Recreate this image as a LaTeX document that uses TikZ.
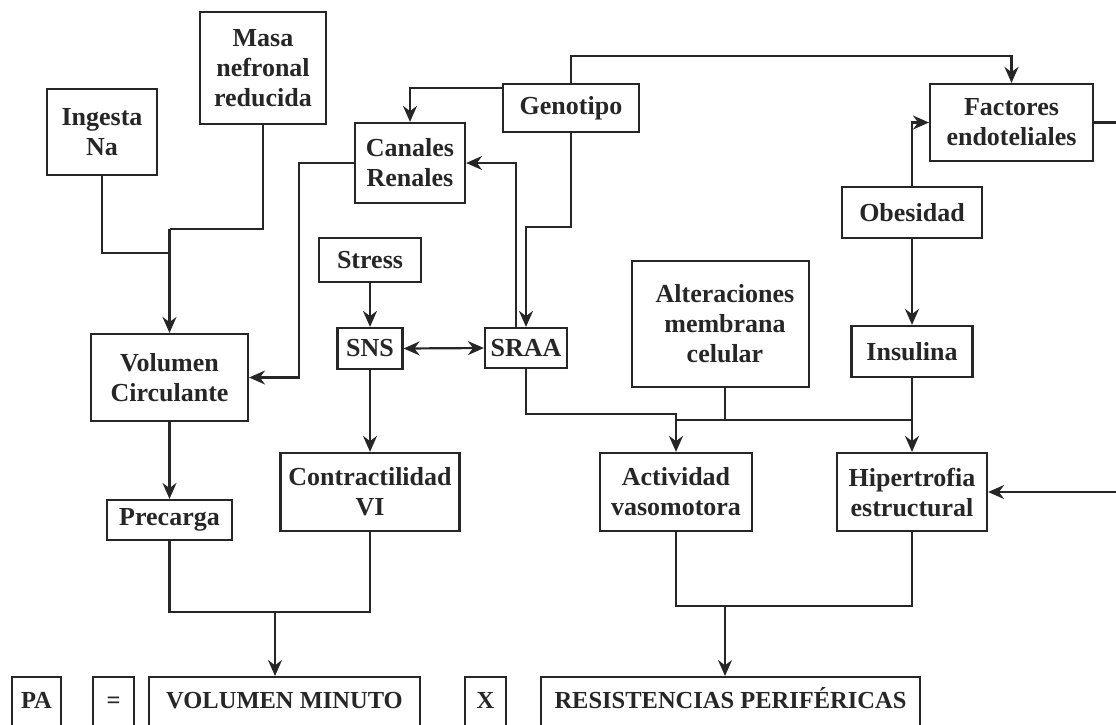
\documentclass[tikz,border=0pt]{standalone}
\usepackage{fontspec}
\setmainfont{Liberation Serif}
\usetikzlibrary{arrows.meta}

\begin{document}
\begin{tikzpicture}[
                x=1pt, y=-1pt,
                line width=2.2pt, color=black!85,
                box/.style={draw, rectangle, align=center, inner sep=0pt, font=\fontsize{26}{30}\selectfont\bfseries},  % all boxes
                eqbox/.style={box, anchor=north, text height=31pt, text depth=33pt, font=\fontsize{24.5}{30}\selectfont\bfseries},  % bottom row, cut by the page edge
                arr/.style={-{Stealth[length=16pt,width=14pt]}},
                arrs/.style={{Stealth[length=16pt,width=14pt]}-{Stealth[length=16pt,width=14pt]}}
            ]
            % Page frame
            \useasboundingbox (0,0) rectangle (1116,724);
            \clip (0,0) rectangle (1116,724);

            % Upper causes
            \node[box, minimum width=126pt, minimum height=112pt] (masa) at (263,68) {Masa\\nefronal\\reducida};
            \node[box, minimum width=110pt, minimum height=86pt] (ingesta) at (102,132) {Ingesta\\Na};
            \node[box, minimum width=136pt, minimum height=48pt] (genotipo) at (571,108) {Genotipo};
            \node[box, minimum width=163pt, minimum height=77pt] (factores) at (1011.5,122.5) {Factores\\endoteliales};
            \node[box, minimum width=110pt, minimum height=80pt] (canales) at (410,163) {Canales\\Renales};
            \node[box, minimum width=140pt, minimum height=51pt] (obesidad) at (912,212.5) {Obesidad};
            \node[box, minimum width=102pt, minimum height=44pt] (stress) at (370,260) {Stress};

            % Middle row
            \node[box, minimum width=65pt, minimum height=41pt] (sns) at (370,348.5) {SNS};
            \node[box, minimum width=82pt, minimum height=40pt] (sraa) at (526,348) {SRAA};
            \node[box, minimum width=157pt, minimum height=87pt] (volumen) at (169.5,377.5) {Volumen\\Circulante};
            \node[box, minimum width=177pt, minimum height=126pt] (alter) at (720.5,324) {\hspace*{9pt}Alteraciones\\\hspace*{9pt}membrana\\\hspace*{9pt}celular};
            \node[box, minimum width=121pt, minimum height=51pt] (insulina) at (912,351.5) {Insulina};

            % Lower row
            \node[box, minimum width=125pt, minimum height=40pt] (precarga) at (169.5,520) {Precarga};
            \node[box, minimum width=179pt, minimum height=78pt] (contract) at (370,492) {Contractilidad\\VI};
            \node[box, minimum width=152pt, minimum height=78pt] (actividad) at (676,492) {Actividad\\vasomotora};
            \node[box, minimum width=150pt, minimum height=78pt] (hipertrofia) at (912,492) {Hipertrofia\\estructural};

            % Equation PA = VM x RP
            \node[eqbox, minimum width=49pt] (pa) at (36.5,676) {PA};
            \node[eqbox, minimum width=41pt] (igual) at (113.5,676) {=};
            \node[eqbox, minimum width=271pt] (vm) at (284.5,676) {VOLUMEN MINUTO};
            \node[eqbox, minimum width=41pt] (por) at (485.5,676) {X};
            \node[eqbox, minimum width=379pt] (rp) at (730.5,676) {RESISTENCIAS PERIFÉRICAS};

            % Junction points
            \coordinate (jvol) at (169.5,229);
            \coordinate (jna) at (169.5,253);
            \coordinate (jvm) at (275,612);
            \coordinate (jl) at (676,420);
            \coordinate (jr) at (912,420);
            \coordinate (jrp) at (725,606);

            % Connectors into Volumen Circulante
            \draw (masa.south) |- (jvol);
            \draw (ingesta.south) |- (jna);
            \draw[arr] (jvol) -- (volumen.north);
            \draw[arr] (canales.west) -- ++(-55,0) |- (volumen.east);

            % Genotipo outputs
            \draw[arr] ([yshift=-5pt]genotipo.north west) -| (canales.north);
            \draw[arr] (genotipo.north) -- ++(0,-27) -| (factores.north);
            \draw[arr] (genotipo.south) -- ++(0,94) -| (sraa.north);
            \draw[arr] ([xshift=-10pt]sraa.north) |- (canales.east);

            % Sympathetic branch
            \draw[arr] (stress.south) -- (sns.north);
            \draw[arrs] (sns.east) -- (sraa.west);
            \draw[arr] (sns.south) -- (contract.north);
            \draw[arr] (volumen.south) -- (precarga.north);

            % Cardiac output
            \draw (precarga.south) |- (jvm) -| (contract.south);
            \draw[arr] (jvm) -- (jvm |- vm.north);

            % Vascular branch
            \draw[arr] (sraa.south) -- ++(0,45) -| (actividad.north);
            \draw (jl) -- (jr);
            \draw ([xshift=4.5pt]alter.south) -- ([xshift=4.5pt]alter.south |- jr);
            \draw[arr] (obesidad.north) |- (factores.west);
            \draw[arr] (obesidad.south) -- (insulina.north);
            \draw[arr] (insulina.south) -- (hipertrofia.north);
            \draw[arr] (factores.east) -- ++(40,0) |- (hipertrofia.east);

            % Peripheral resistance
            \draw (actividad.south) |- (jrp) -| (hipertrofia.south);
            \draw[arr] (jrp) -- (jrp |- rp.north);

        \end{tikzpicture}
\end{document}
